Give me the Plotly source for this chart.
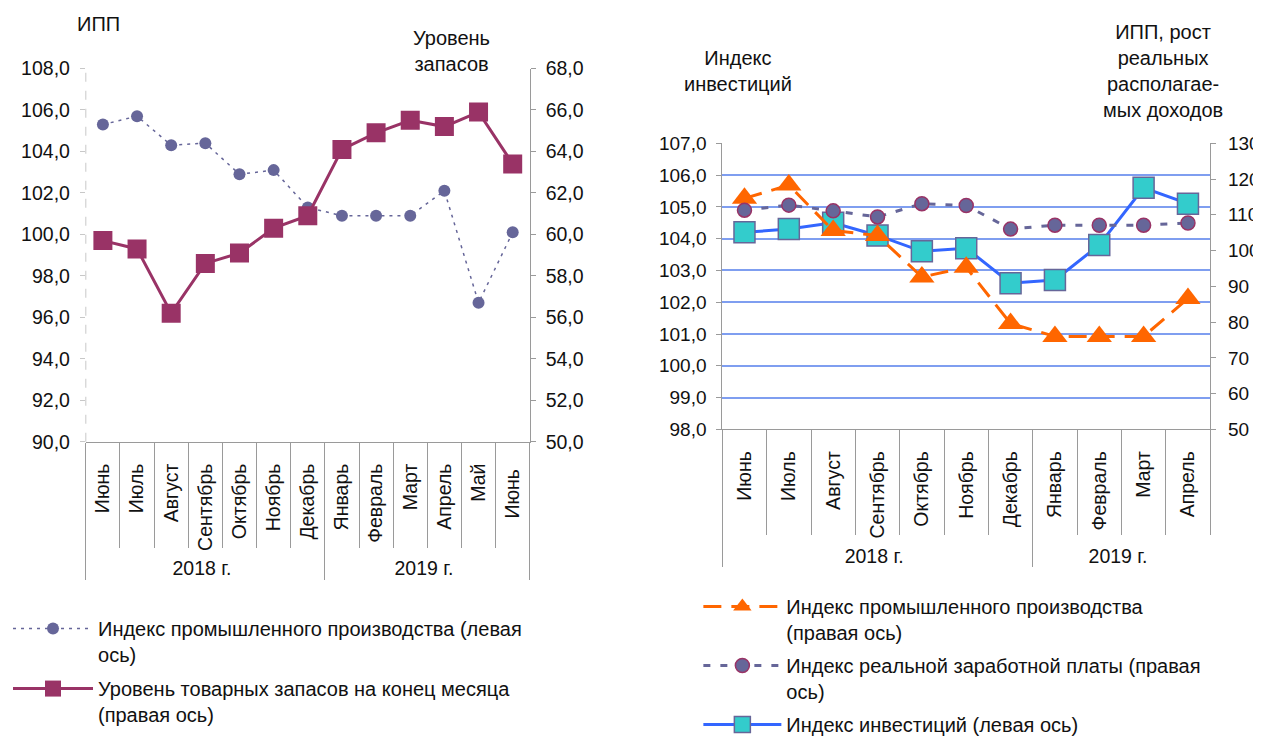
import plotly.graph_objects as go

# ---------------- data ----------------
months_left = ["Июнь", "Июль", "Август", "Сентябрь", "Октябрь", "Ноябрь", "Декабрь",
               "Январь", "Февраль", "Март", "Апрель", "Май", "Июнь "]
years_left = ["2018 г."] * 7 + ["2019 г."] * 6
ipp_left = [105.3, 105.7, 104.3, 104.4, 102.9, 103.1, 101.3, 100.9, 100.9, 100.9, 102.1, 96.7, 100.1]
stocks = [59.7, 59.3, 56.2, 58.6, 59.1, 60.3, 60.9, 64.1, 64.9, 65.5, 65.2, 65.9, 63.4]

months_right = ["Июнь", "Июль", "Август", "Сентябрь", "Октябрь", "Ноябрь", "Декабрь",
                "Январь", "Февраль", "Март", "Апрель"]
years_right = ["2018 г."] * 7 + ["2019 г."] * 4
ipp_right = [114.6, 118.3, 105.6, 104.2, 92.6, 95.3, 79.6, 76.0, 76.0, 76.0, 86.6]
wages = [111.3, 112.7, 111.1, 109.4, 113.1, 112.6, 106.0, 107.1, 107.1, 107.1, 107.7]
invest = [104.2, 104.3, 104.5, 104.1, 103.6, 103.7, 102.6, 102.7, 103.8, 105.6, 105.1]

# ---------------- helpers ----------------
OFF = 8                      # page body margin
W, H = 1261, 736
VS = 0.984                   # observed vertical scale of the snapshot
FONT = "Liberation Sans, Arial, sans-serif"


def px(x):
    return (x - OFF) / W


def py(y):
    yi = (y - 1) / VS
    return 1 - (yi - OFF) / H


AX = "#9a9a9a"
TXT = "#111111"

fig = go.Figure()

# ---------------- left chart ----------------
fig.add_trace(go.Scatter(
    x=[years_left, months_left], y=ipp_left, xaxis="x", yaxis="y",
    name="Индекс промышленного производства (левая<br>ось)",
    mode="lines+markers",
    line=dict(color="#666699", width=1.5, dash="3px,5px"),
    marker=dict(symbol="circle", size=12, color="#666699"),
    legend="legend", legendgroup="a",
))
fig.add_trace(go.Scatter(
    x=[years_left, months_left], y=stocks, xaxis="x", yaxis="y2",
    name="Уровень товарных запасов на конец месяца<br>(правая ось)",
    mode="lines+markers",
    line=dict(color="#993366", width=3),
    marker=dict(symbol="square", size=19, color="#993366"),
    legend="legend", legendgroup="b",
))
fig.add_trace(go.Scatter(x=[0], y=[None], xaxis="x3", yaxis="y", showlegend=False,
                         hoverinfo="skip", mode="markers"))

# ---------------- right chart ----------------
fig.add_trace(go.Scatter(
    x=[years_right, months_right], y=ipp_right, xaxis="x2", yaxis="y4",
    name="Индекс промышленного производства<br>(правая ось)",
    mode="lines+markers",
    line=dict(color="#FF6600", width=3, dash="18px,10px"),
    marker=dict(symbol="triangle-up", size=22, color="#FF6600"),
    legend="legend2", legendgroup="c",
))
fig.add_trace(go.Scatter(
    x=[years_right, months_right], y=wages, xaxis="x2", yaxis="y4",
    name="Индекс реальной заработной платы (правая<br>ось)",
    mode="lines+markers",
    line=dict(color="#666699", width=3, dash="7px,10px"),
    marker=dict(symbol="circle", size=14, color="#666699", line=dict(color="#993366", width=1.5)),
    legend="legend2", legendgroup="d",
))
fig.add_trace(go.Scatter(
    x=[years_right, months_right], y=invest, xaxis="x2", yaxis="y3",
    name="Индекс инвестиций (левая ось)",
    mode="lines+markers",
    line=dict(color="#3366FF", width=3),
    marker=dict(symbol="square", size=21, color="#33CCCC", line=dict(color="#666699", width=1.5)),
    legend="legend2", legendgroup="e",
))
fig.add_trace(go.Scatter(x=[0], y=[None], xaxis="x4", yaxis="y3", showlegend=False,
                         hoverinfo="skip", mode="markers"))

nl, nr = len(months_left), len(months_right)


def cat_axis(dom, anchor, n):
    return dict(type="multicategory", domain=dom, anchor=anchor, range=[-0.5, n - 0.5],
                showgrid=False, zeroline=False, ticks="", showline=True, linecolor=AX,
                linewidth=1, showdividers=True, dividercolor=AX, dividerwidth=1,
                tickangle=-90, ticklabelstandoff=13,
                tickfont=dict(family=FONT, size=19.5, color=TXT), automargin=False)


def sep_axis(dom, anchor, over, n):
    return dict(domain=dom, anchor=anchor, overlaying=over, type="linear",
                range=[-0.5, n - 0.5], tickmode="array",
                tickvals=[i - 0.5 for i in range(n + 1)], ticks="outside", ticklen=105,
                tickcolor=AX, showticklabels=False, showgrid=False, zeroline=False,
                showline=False, automargin=False, side="bottom")


fl = dict(family=FONT, size=19.5, color=TXT)
fr = dict(family=FONT, size=19, color=TXT)

LX = [px(83), px(528)]
LY = [py(447), py(70)]
RX = [px(721), px(1210)]
RY = [py(434.5), py(145.5)]

fig.update_layout(
    template="none",
    width=W, height=H,
    margin=dict(l=0, r=0, t=0, b=0),
    paper_bgcolor="white", plot_bgcolor="rgba(0,0,0,0)",
    separators=", ",
    font=dict(family=FONT, size=19, color=TXT),
    xaxis=cat_axis(LX, "y", nl),
    xaxis3=sep_axis(LX, "y", "x", nl),
    yaxis=dict(domain=LY, anchor="x", range=[90, 108], dtick=2,
               tickformat=".1f", showgrid=False, zeroline=False, showline=False,
               ticks="outside", ticklen=5, tickcolor="#c8c8c8", tickfont=fl,
               ticklabelstandoff=6, automargin=False),
    yaxis2=dict(domain=LY, anchor="x", overlaying="y", side="right",
                range=[50, 68], dtick=2, tickformat=".1f", showgrid=False, zeroline=False,
                showline=True, linecolor=AX, ticks="outside", ticklen=5, tickcolor=AX,
                tickfont=fl, ticklabelstandoff=6, automargin=False),
    xaxis2=cat_axis(RX, "y3", nr),
    xaxis4=sep_axis(RX, "y3", "x2", nr),
    yaxis3=dict(domain=RY, anchor="x2", range=[98, 107], dtick=1,
                tickformat=".1f", showgrid=True, gridcolor="#7f9ef0", gridwidth=1.5,
                zeroline=False, showline=True, linecolor=AX, ticks="outside", ticklen=5,
                tickcolor=AX, tickfont=fr, ticklabelstandoff=6, automargin=False),
    yaxis4=dict(domain=RY, anchor="x2", overlaying="y3", side="right",
                range=[50, 130], dtick=10, showgrid=False, zeroline=False, showline=True,
                linecolor=AX, ticks="outside", ticklen=5, tickcolor=AX, tickfont=fr,
                ticklabelstandoff=8, automargin=False),
    legend=dict(x=px(5), y=py(616), xanchor="left", yanchor="top", orientation="v",
                itemwidth=80, valign="top", bgcolor="rgba(0,0,0,0)", tracegroupgap=5,
                font=dict(family=FONT, size=20, color=TXT)),
    legend2=dict(x=px(697), y=py(594), xanchor="left", yanchor="top", orientation="v",
                 itemwidth=78, valign="top", bgcolor="rgba(0,0,0,0)", tracegroupgap=4,
                 font=dict(family=FONT, size=20, color=TXT)),
)

fig.add_shape(type="line", xref="x domain", yref="y domain", x0=0, x1=0, y0=0, y1=1,
              line=dict(color="#c8c8c8", width=1, dash="dash"))

ann = dict(xref="paper", yref="paper", showarrow=False)
tf = dict(family=FONT, size=20, color=TXT)
fig.add_annotation(text="ИПП", x=px(72), y=py(25), xanchor="left", yanchor="middle",
                   font=tf, **ann)
fig.add_annotation(text="Уровень<br>запасов", x=px(450), y=py(52.5), xanchor="center",
                   yanchor="middle", font=tf, **ann)
fig.add_annotation(text="Индекс<br>инвестиций", x=px(737), y=py(72.5), xanchor="center",
                   yanchor="middle", font=tf, **ann)
fig.add_annotation(text="ИПП, рост<br>реальных<br>располагае-<br>мых доходов", x=px(1163),
                   y=py(72.5), xanchor="center", yanchor="middle", font=tf, **ann)

fig.write_html("out.html")
